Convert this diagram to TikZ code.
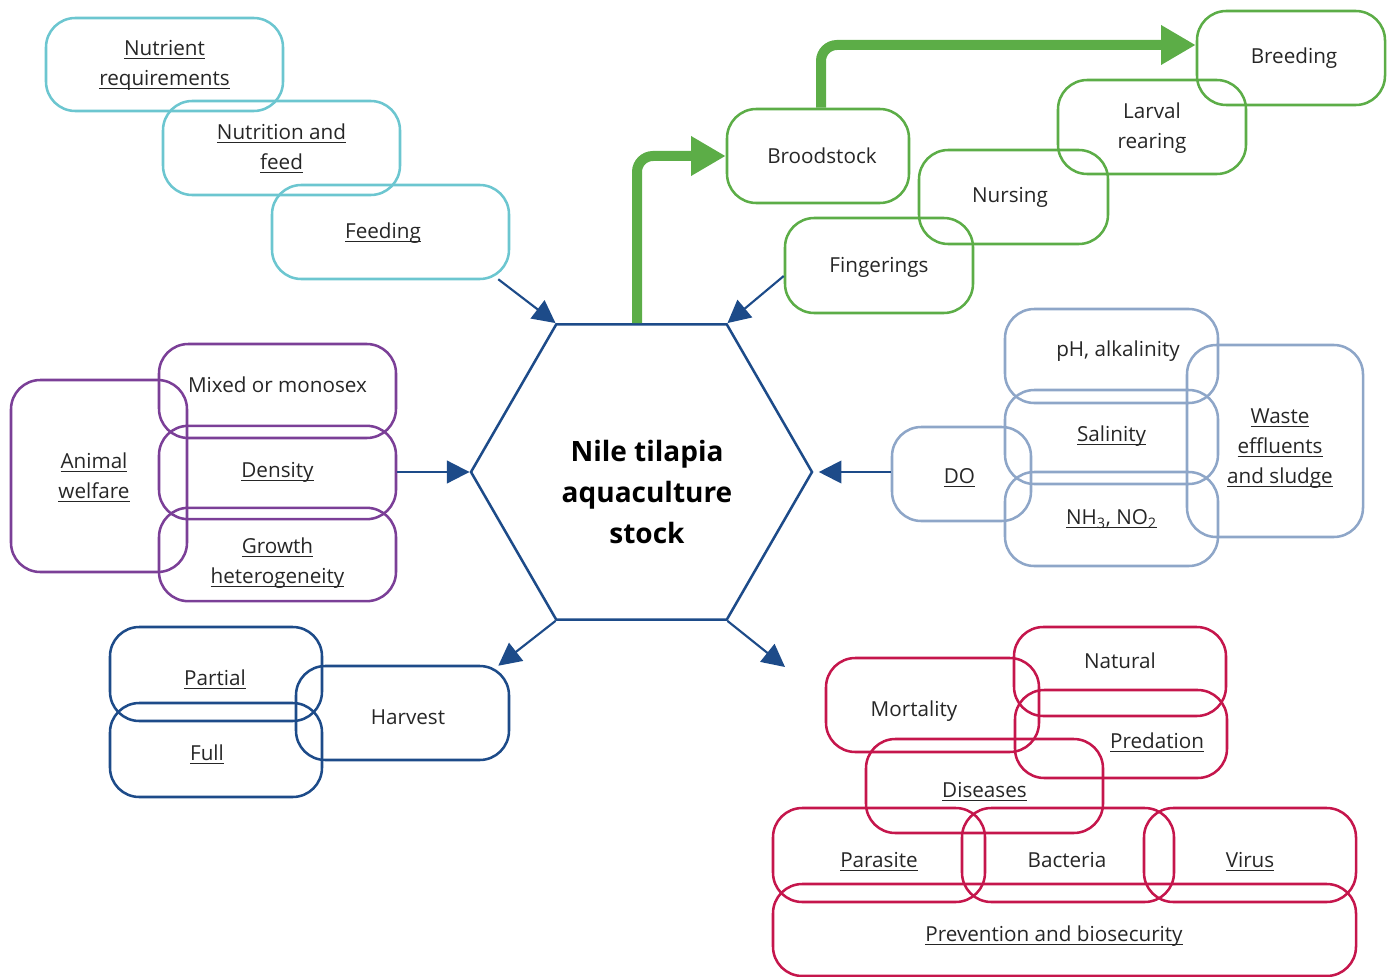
\documentclass[tikz,border=0pt]{standalone}
\usepackage{fontspec}
\setmainfont{Open Sans}
\usetikzlibrary{arrows.meta,calc,shapes.geometric}
\definecolor{cTeal}{HTML}{6CC6D0}
\definecolor{cGreen}{HTML}{5CAD47}
\definecolor{cPurp}{HTML}{7B3F97}
\definecolor{cGrayb}{HTML}{8EA6C8}
\definecolor{cNavy}{HTML}{1D4B89}
\definecolor{cRed}{HTML}{C5164C}
\definecolor{cTxt}{HTML}{262626}
\newcommand\lbl{\fontsize{15.5}{22.5}\selectfont}
\newcommand\ttl{\fontsize{21}{30.5}\selectfont\bfseries}
\newcommand\myul[1]{\leavevmode\setbox0=\hbox{#1}\rlap{\color{cTxt}\rule[-2.6pt]{\wd0}{0.7pt}}\box0}
\begin{document}
\begin{tikzpicture}[x=0.75pt,y=-0.75pt,
  box/.style={draw, rounded corners=22pt, line width=1.9pt, inner sep=0pt},
  lab/.style={inner sep=0pt, align=center, text=cTxt, font=\lbl},
  barrow/.style={draw=cNavy, line width=1.6pt, -{Triangle[length=17pt,width=17pt]}},
  garrow/.style={draw=cGreen, line width=7.5pt, rounded corners=12pt, -{Triangle[length=26pt,width=28pt]}}]
\useasboundingbox (0,0) rectangle (1392,977);

% teal
\node[box,draw=cTeal,minimum width=177.75pt,minimum height=69.75pt] (nreq) at (164.5,64.5) {};
\node[lab] (tnreq) at (164.5,65.5) {\myul{Nutrient}\\\myul{requirements}};
\node[box,draw=cTeal,minimum width=177.75pt,minimum height=70.5pt] (nfeed) at (281.5,148) {};
\node[lab] (tnfeed) at (281.5,148) {\myul{Nutrition and}\\\myul{feed}};
\node[box,draw=cTeal,minimum width=177.75pt,minimum height=70.5pt] (feed) at (390.5,232) {};
\node[lab] (tfeed) at (383,233) {\myul{Feeding}};

% green
\node[box,draw=cGreen,minimum width=136.5pt,minimum height=70.5pt] (brood) at (818,156) {};
\node[lab] (tbrood) at (822,156) {Broodstock};
\node[box,draw=cGreen,minimum width=141pt,minimum height=70.5pt] (breed) at (1291,58) {};
\node[lab] (tbreed) at (1294,58) {Breeding};
\node[box,draw=cGreen,minimum width=141pt,minimum height=70.5pt] (larv) at (1152,127) {};
\node[lab] (tlarv) at (1152,128) {Larval\\rearing};
\node[box,draw=cGreen,minimum width=141.75pt,minimum height=70.5pt] (nurs) at (1013.5,197) {};
\node[lab] (tnurs) at (1010,197) {Nursing};
\node[box,draw=cGreen,minimum width=141pt,minimum height=71.25pt] (fing) at (879,265.5) {};
\node[lab] (tfing) at (879,267.5) {Fingerings};

% hexagon
\node[regular polygon, regular polygon sides=6, draw=cNavy, line width=1.9pt, minimum size=255.75pt, inner sep=0pt] (hex) at (641.5,472) {};
\node[inner sep=0pt, align=center, font=\ttl] (ttl) at (647,492) {Nile tilapia\\aquaculture\\stock};

% purple
\node[box,draw=cPurp,minimum width=132pt,minimum height=144pt] (anim) at (99,476) {};
\node[lab] (tanim) at (94,477) {\myul{Animal}\\\myul{welfare}};
\node[box,draw=cPurp,minimum width=177.75pt,minimum height=70.5pt] (mixed) at (277.5,391) {};
\node[lab] (tmixed) at (277.5,385) {Mixed or monosex};
\node[box,draw=cPurp,minimum width=177.75pt,minimum height=70pt] (dens) at (277.5,472.5) {};
\node[lab] (tdens) at (277.5,472) {\myul{Density}};
\node[box,draw=cPurp,minimum width=177.75pt,minimum height=70pt] (growth) at (277.5,554.5) {};
\node[lab] (tgrowth) at (277.5,563.5) {\myul{Growth}\\\myul{heterogeneity}};

% gray-blue
\node[box,draw=cGrayb,minimum width=159.75pt,minimum height=70.5pt] (ph) at (1111.5,356) {};
\node[lab] (tph) at (1118,351) {pH, alkalinity};
\node[box,draw=cGrayb,minimum width=159.75pt,minimum height=70.5pt] (sal) at (1111.5,437) {};
\node[lab] (tsal) at (1111.5,436) {\myul{Salinity}};
\node[box,draw=cGrayb,minimum width=159.75pt,minimum height=70.5pt] (nh) at (1111.5,519) {};
\node[lab] (tnh) at (1111.5,519) {\myul{NH\textsubscript{3}, NO\textsubscript{2}}};
\node[box,draw=cGrayb,minimum width=104.25pt,minimum height=70.5pt] (do) at (961.5,474) {};
\node[lab] (tdo) at (959.5,478) {\myul{DO}};
\node[box,draw=cGrayb,minimum width=132pt,minimum height=144pt] (waste) at (1275,441) {};
\node[lab] (twaste) at (1280,449) {\myul{Waste}\\\myul{effluents}\\\myul{and sludge}};

% navy
\node[box,draw=cNavy,minimum width=159pt,minimum height=70.5pt] (part) at (216,674) {};
\node[lab] (tpart) at (215,679) {\myul{Partial}};
\node[box,draw=cNavy,minimum width=159pt,minimum height=70.5pt] (full) at (216,750) {};
\node[lab] (tfull) at (207,754) {\myul{Full}};
\node[box,draw=cNavy,minimum width=159.75pt,minimum height=70.5pt] (harv) at (402.5,713) {};
\node[lab] (tharv) at (408,717) {Harvest};

% red
\node[box,draw=cRed,minimum width=159pt,minimum height=66.75pt] (nat) at (1120,671.5) {};
\node[lab] (tnat) at (1120,661) {Natural};
\node[box,draw=cRed,minimum width=159.75pt,minimum height=70.5pt] (mort) at (932.5,705) {};
\node[lab] (tmort) at (914,711) {Mortality};
\node[box,draw=cRed,minimum width=159pt,minimum height=66pt] (pred) at (1121,734) {};
\node[lab] (tpred) at (1157,742) {\myul{Predation}};
\node[box,draw=cRed,minimum width=177.75pt,minimum height=70.5pt] (dis) at (984.5,786) {};
\node[lab] (tdis) at (984.5,792) {\myul{Diseases}};
\node[box,draw=cRed,minimum width=159pt,minimum height=70.5pt] (para) at (879,855) {};
\node[lab] (tpara) at (879,862) {\myul{Parasite}};
\node[box,draw=cRed,minimum width=159pt,minimum height=70.5pt] (bact) at (1068,855) {};
\node[lab] (tbact) at (1067,860) {Bacteria};
\node[box,draw=cRed,minimum width=159pt,minimum height=70.5pt] (vir) at (1250,855) {};
\node[lab] (tvir) at (1250,862) {\myul{Virus}};
\node[box,draw=cRed,minimum width=437.25pt,minimum height=69pt] (prev) at (1064.5,930) {};
\node[lab] (tprev) at (1054,936) {\myul{Prevention and biosecurity}};

% green arrows
\draw[garrow] ($(hex.north)+(-4.5,0)$) |- (brood.west);
\draw[garrow] ($(brood.north)+(3,0)$) |- ($(breed.west)+(0,-13)$);

% blue arrows
\coordinate (mtip) at (785,667);
\draw[barrow] ($(feed.south east)+(-12,-1)$) -- (hex.120);
\draw[barrow] ($(fing.west)+(0,10.5)$) -- (hex.60);
\draw[barrow] (dens.east |- hex.180) -- (hex.180);
\draw[barrow, shorten >=4pt] (do.west |- hex.0) -- (hex.0);
\draw[barrow] (hex.240) -- ($(harv.north east)+(-12,1)$);
\draw[barrow] (hex.300) -- (mtip);
\end{tikzpicture}
\end{document}
